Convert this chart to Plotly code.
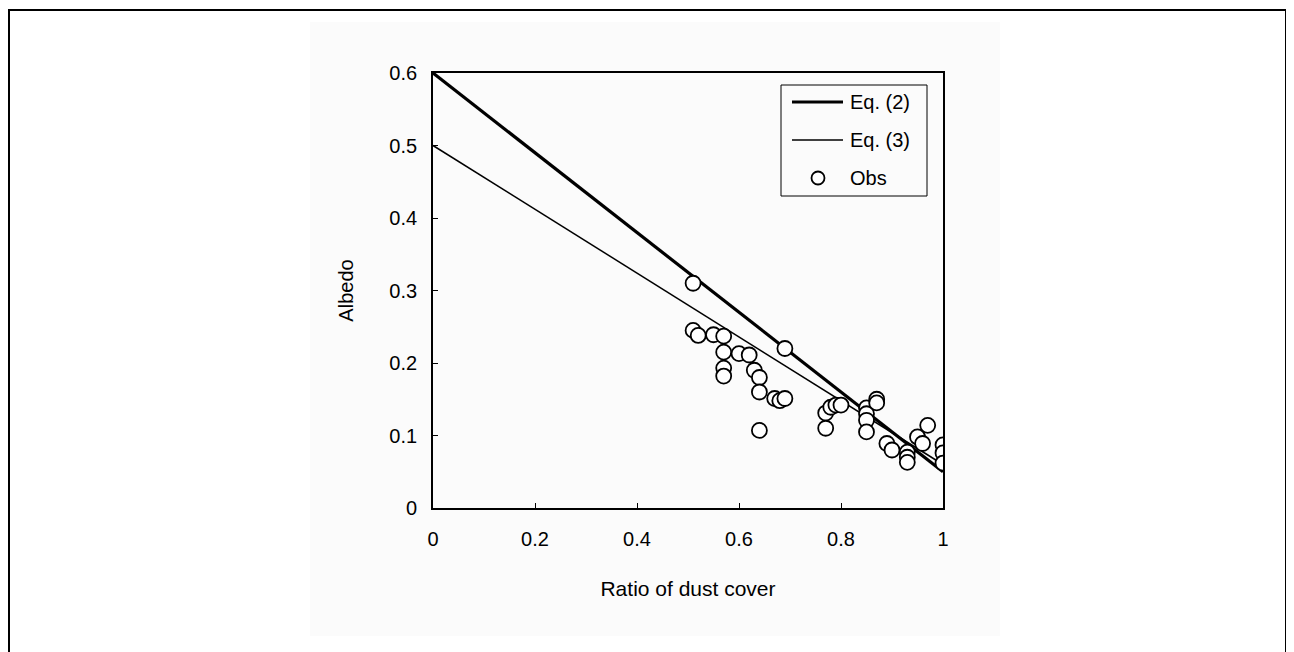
import plotly.graph_objects as go

# Observed data (ratio of dust cover vs albedo)
obs_x = [0.51, 0.51, 0.52, 0.55, 0.57, 0.57, 0.57, 0.57, 0.60, 0.62,
         0.63, 0.64, 0.64, 0.64, 0.67, 0.68, 0.69, 0.69, 0.77, 0.77,
         0.78, 0.79, 0.80, 0.85, 0.85, 0.85, 0.85, 0.87, 0.87, 0.89,
         0.90, 0.93, 0.93, 0.93, 0.95, 0.96, 0.97, 1.00, 1.00, 1.00]
obs_y = [0.310, 0.245, 0.238, 0.239, 0.237, 0.215, 0.193, 0.182, 0.213, 0.211,
         0.190, 0.180, 0.160, 0.107, 0.151, 0.148, 0.151, 0.220, 0.131, 0.110,
         0.139, 0.142, 0.142, 0.138, 0.130, 0.121, 0.105, 0.150, 0.145, 0.089,
         0.080, 0.077, 0.070, 0.063, 0.098, 0.089, 0.114, 0.087, 0.076, 0.062]

# Model lines
eq2_x = [0.0, 1.0]
eq2_y = [0.60, 0.05]
eq3_x = [0.0, 1.0]
eq3_y = [0.50, 0.06]

series_names = ["Eq. (2)", "Eq. (3)", "Obs"]

x_ticks = [0, 0.2, 0.4, 0.6, 0.8, 1]
x_tick_labels = ["0", "0.2", "0.4", "0.6", "0.8", "1"]
y_ticks = [0, 0.1, 0.2, 0.3, 0.4, 0.5, 0.6]
y_tick_labels = ["0", "0.1", "0.2", "0.3", "0.4", "0.5", "0.6"]

OFF = 8  # browser body margin
W, H = 1294 - OFF, 652 - OFF
# plot-area edges in page pixels
PL, PR, PT, PB = 433, 943, 73, 508
L, R, T, B = PL - OFF, PR - OFF, PT - OFF, PB - OFF
FONT = "Liberation Sans, Arial, sans-serif"
FS = 20
SCAN_BG = "#fbfbfb"


def px_x(p):
    return (p - OFF - L) / (R - L)


def px_y(p):
    return (B - (p - OFF)) / (B - T)


fig = go.Figure()
fig.add_trace(go.Scatter(x=eq2_x, y=eq2_y, mode="lines", name=series_names[0],
                         line=dict(color="black", width=3.2), showlegend=False))
fig.add_trace(go.Scatter(x=eq3_x, y=eq3_y, mode="lines", name=series_names[1],
                         line=dict(color="black", width=1.5), showlegend=False))
fig.add_trace(go.Scatter(x=obs_x, y=obs_y, mode="markers", name=series_names[2],
                         showlegend=False,
                         marker=dict(symbol="circle", size=15, color="white",
                                     line=dict(color="black", width=1.8))))

shapes = [
    # faint scanned-page background
    dict(type="rect", xref="paper", yref="paper",
         x0=px_x(310), x1=px_x(1000), y0=px_y(636), y1=px_y(22),
         line=dict(width=0), fillcolor=SCAN_BG, layer="below"),
    # outer frame of the figure
    dict(type="rect", xref="paper", yref="paper",
         x0=px_x(9), x1=px_x(1286), y0=px_y(700), y1=px_y(10),
         line=dict(color="black", width=2), layer="above"),
    # legend box
    dict(type="rect", xref="paper", yref="paper",
         x0=px_x(781), x1=px_x(927), y0=px_y(196), y1=px_y(85),
         line=dict(color="black", width=1), fillcolor=SCAN_BG, layer="above"),
    # legend samples
    dict(type="line", xref="paper", yref="paper",
         x0=px_x(792), x1=px_x(843), y0=px_y(102), y1=px_y(102),
         line=dict(color="black", width=3.2), layer="above"),
    dict(type="line", xref="paper", yref="paper",
         x0=px_x(792), x1=px_x(843), y0=px_y(140), y1=px_y(140),
         line=dict(color="black", width=1.5), layer="above"),
    dict(type="circle", xref="paper", yref="paper",
         x0=px_x(811.5), x1=px_x(824.5), y0=px_y(184.5), y1=px_y(171.5),
         line=dict(color="black", width=1.8), fillcolor="white", layer="above"),
]

annotations = []
for name, yy in zip(series_names, [102, 140, 178]):
    annotations.append(dict(text=name, xref="paper", yref="paper",
                            x=px_x(848), y=px_y(yy), xanchor="left", yanchor="middle",
                            showarrow=False,
                            font=dict(family=FONT, size=FS, color="black")))

fig.update_layout(
    width=W, height=H,
    margin=dict(l=L, r=W - R, t=T, b=H - B, pad=0),
    paper_bgcolor="white", plot_bgcolor="rgba(0,0,0,0)",
    font=dict(family=FONT, size=FS, color="black"),
    showlegend=False,
    shapes=shapes,
    annotations=annotations,
)
fig.update_xaxes(range=[0, 1], tickvals=x_ticks, ticktext=x_tick_labels,
                 ticks="inside", ticklen=5, tickcolor="black", tickwidth=1.2,
                 ticklabelstandoff=12,
                 showline=True, linecolor="black", linewidth=1.8, mirror=True,
                 showgrid=False, zeroline=False,
                 title=dict(text="Ratio of dust cover", standoff=32,
                            font=dict(family=FONT, size=FS + 1)),
                 tickfont=dict(family=FONT, size=FS))
fig.update_yaxes(range=[0, 0.6], tickvals=y_ticks, ticktext=y_tick_labels,
                 ticks="inside", ticklen=5, tickcolor="black", tickwidth=1.2,
                 ticklabelstandoff=10,
                 showline=True, linecolor="black", linewidth=1.8, mirror=True,
                 showgrid=False, zeroline=False,
                 title=dict(text="Albedo", standoff=30,
                            font=dict(family=FONT, size=FS)),
                 tickfont=dict(family=FONT, size=FS))

fig.write_html("out.html")
